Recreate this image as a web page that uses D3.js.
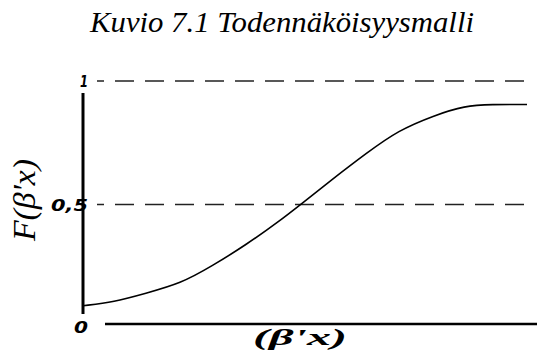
<!DOCTYPE html>
<html>
<head>
<meta charset="utf-8">
<script src="https://cdn.jsdelivr.net/npm/d3@7"></script>
<style>
  body { margin: 0; background: #fff; }
</style>
</head>
<body>
<div id="chart"></div>
<script>
// dati
var title = "Kuvio 7.1 Todennäköisyysmalli";
var xLabel = "(β'x)";
var yLabel = "F(β'x)";
var tickValues = [0, 0.5, 1];
var tickLabels = ["0", "0,5", "1"];
var guideValues = [1, 0.5];
var curveX = [0, 7, 14, 22, 29, 37, 44, 49, 56, 64, 71, 79, 86, 92, 100];
var curveY = [0.09, 0.105, 0.14, 0.18, 0.25, 0.34, 0.43, 0.50, 0.60, 0.71, 0.80, 0.86, 0.90, 0.905, 0.905];

var W = 538, H = 352;

var svg = d3.select("#chart")
  .append("svg")
  .attr("width", W)
  .attr("height", H);

// scale
var x = d3.scaleLinear().domain([0, 100]).range([83, 527]);
var y = d3.scaleLinear().domain([0, 1]).range([328, 81]);

var serif = "'Liberation Serif', 'Times New Roman', serif";

// titolo
svg.append("text")
  .attr("x", 282)
  .attr("y", 32)
  .attr("text-anchor", "middle")
  .attr("textLength", 384)
  .attr("lengthAdjust", "spacingAndGlyphs")
  .style("font-family", serif)
  .style("font-style", "italic")
  .style("font-size", "29px")
  .text(title);

// linee tratteggiate
svg.selectAll(".guide")
  .data(guideValues)
  .enter()
  .append("line")
    .attr("class", "guide")
    .attr("x1", 97)
    .attr("x2", 525)
    .attr("y1", function(d) { return y(d); })
    .attr("y2", function(d) { return y(d); })
    .style("stroke", "#222")
    .style("stroke-width", 1.6)
    .style("stroke-dasharray", "19 11")
    .style("stroke-dashoffset", 12);

// asse Y
svg.append("line")
  .attr("x1", x(0)).attr("x2", x(0))
  .attr("y1", y(1) + 12).attr("y2", y(0) - 14)
  .style("stroke", "#000")
  .style("stroke-width", 3);

// asse X
svg.append("line")
  .attr("x1", 105).attr("x2", 537)
  .attr("y1", y(0) - 4).attr("y2", y(0) - 4)
  .style("stroke", "#000")
  .style("stroke-width", 2.5);

// etichette dei tick
var tickWidths = [14, 37, 8];
svg.selectAll(".tick")
  .data(tickValues)
  .enter()
  .append("text")
    .attr("class", "tick")
    .attr("x", 88)
    .attr("y", function(d) { return (d === 0 ? y(d) - 1 : y(d)) + 6; })
    .attr("text-anchor", "end")
    .attr("textLength", function(d, i) { return tickWidths[i]; })
    .attr("lengthAdjust", "spacingAndGlyphs")
    .style("font-family", "'DejaVu Sans', sans-serif")
    .style("font-weight", "bold")
    .style("font-style", "italic")
    .style("font-size", "16px")
    .text(function(d, i) { return tickLabels[i]; });

// curva
var line = d3.line()
  .x(function(d) { return x(d); })
  .y(function(d, i) { return y(curveY[i]); })
  .curve(d3.curveBasis);

svg.append("path")
  .datum(curveX)
  .attr("d", line)
  .style("fill", "none")
  .style("stroke", "#000")
  .style("stroke-width", 1.6);

// label asse X
svg.append("text")
  .attr("x", 300)
  .attr("y", 345)
  .attr("text-anchor", "middle")
  .attr("textLength", 94)
  .attr("lengthAdjust", "spacingAndGlyphs")
  .style("font-family", serif)
  .style("font-weight", "bold")
  .style("font-style", "italic")
  .style("font-size", "23px")
  .text(xLabel);

// label asse Y
svg.append("text")
  .attr("transform", "translate(35,200) rotate(-90)")
  .attr("text-anchor", "middle")
  .attr("textLength", 82)
  .attr("lengthAdjust", "spacingAndGlyphs")
  .style("font-family", serif)
  .style("font-style", "italic")
  .style("font-size", "32px")
  .text(yLabel);
</script>
</body>
</html>
